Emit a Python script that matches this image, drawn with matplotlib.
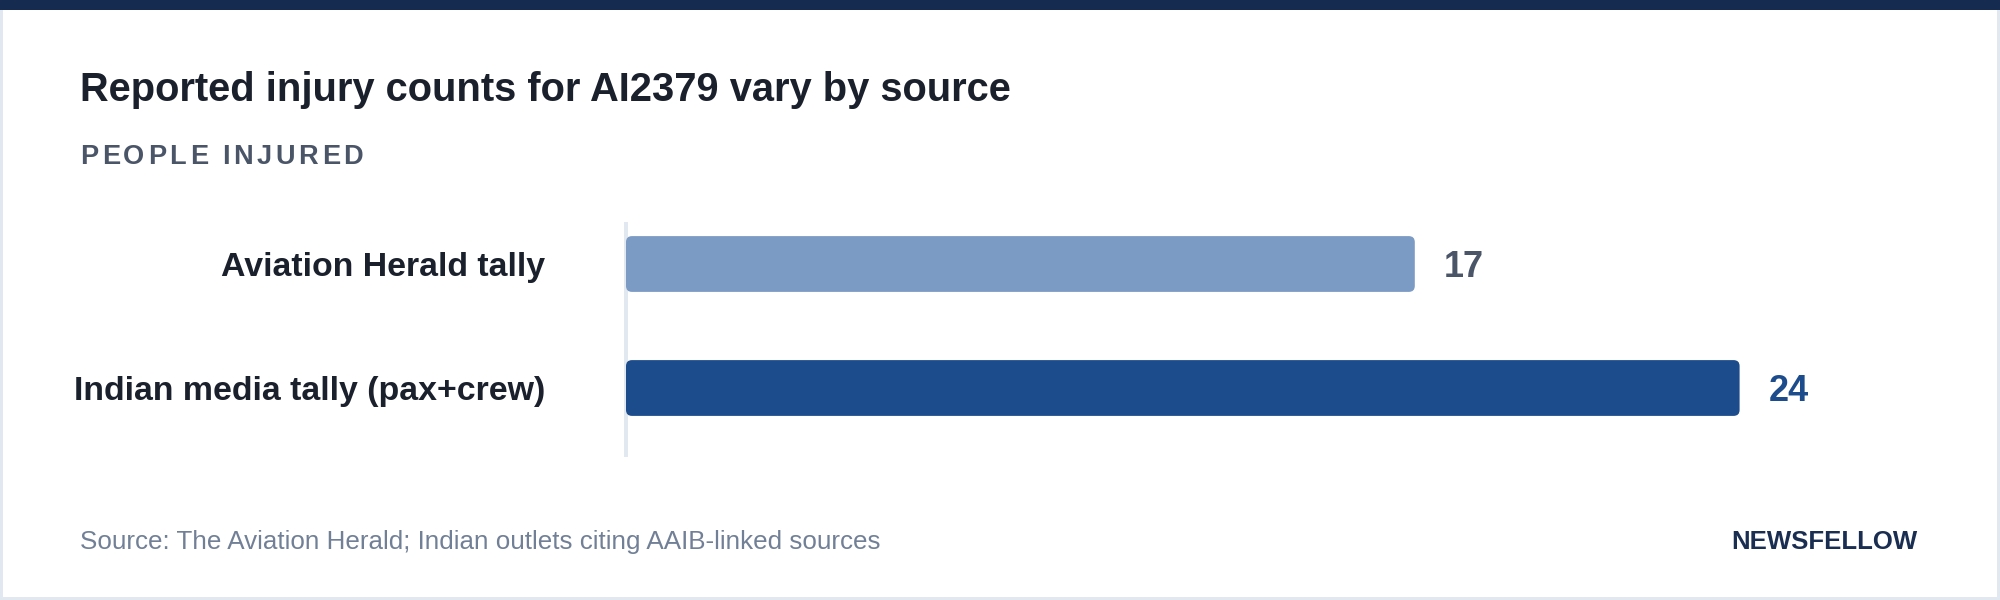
import matplotlib
matplotlib.use('Agg')
import matplotlib.pyplot as plt
from matplotlib.patches import FancyBboxPatch, Rectangle

categories = ["Aviation Herald tally", "Indian media tally (pax+crew)"]
values = [17, 24]
bar_colors = ["#7b9bc4", "#1c4c8c"]
value_colors = ["#4a5568", "#1c4c8c"]
title = "Reported injury counts for AI2379 vary by source"
subtitle = "PEOPLE INJURED"
source = "Source: The Aviation Herald; Indian outlets citing AAIB-linked sources"
brand = "NEWSFELLOW"

W, H, DPI = 2000, 600, 100
FONT = "Liberation Sans"
fig = plt.figure(figsize=(W / DPI, H / DPI), dpi=DPI)
fig.patch.set_facecolor("white")


def fx(px):
    return px / W


def fy(py):
    return 1 - py / H


# card border and top band
fig.patches.append(Rectangle((0, 0), 1, 1, transform=fig.transFigure, fill=False,
                             edgecolor="#e2e8f0", linewidth=6 * 72 / DPI, zorder=0))
fig.patches.append(Rectangle((0, fy(10)), 1, 10 / H, transform=fig.transFigure,
                             facecolor="#152b50", edgecolor="none", zorder=1))

# axes
px_per_unit = 46.4
x0_px, x1_px = 626, 1900
top_px, bot_px = 224, 455
ax = fig.add_axes([fx(x0_px), fy(bot_px), (x1_px - x0_px) / W, (bot_px - top_px) / H])
ax.set_xlim(0, (x1_px - x0_px) / px_per_unit)
row_px = 124
ax.set_ylim(1 + (bot_px - 388) / row_px, -(264 - top_px) / row_px)
ax.set_facecolor("none")
for s in ["top", "right", "bottom"]:
    ax.spines[s].set_visible(False)
ax.spines["left"].set_color("#e2e8f0")
ax.spines["left"].set_linewidth(4 * 72 / DPI)
ax.set_xticks([])
ax.set_yticks([])

ypos = list(range(len(categories)))
bars = ax.barh(ypos, values, height=0.45, color=bar_colors)
r_x = 6 / px_per_unit
asp = (6 / row_px) / r_x
for b, c in zip(bars, bar_colors):
    fp = FancyBboxPatch((b.get_x(), b.get_y()), b.get_width(), b.get_height(),
                        boxstyle=f"round,pad=0,rounding_size={r_x}",
                        mutation_aspect=asp, facecolor=c, edgecolor="none", zorder=3)
    ax.add_patch(fp)
    b.remove()

for i, (cat, v, vc) in enumerate(zip(categories, values, value_colors)):
    ax.annotate(cat, xy=(0, i), xytext=(-81, -12), textcoords="offset pixels",
                ha="right", va="baseline", fontsize=24.4, fontweight="bold",
                color="#1a202c", family=FONT)
    ax.annotate(str(v), xy=(v, i), xytext=(29, -13), textcoords="offset pixels",
                ha="left", va="baseline", fontsize=26, fontweight="bold",
                color=vc, family=FONT)

# title
fig.text(fx(80), fy(101), title, ha="left", va="baseline", fontsize=28.7,
         fontweight="bold", color="#1a202c", family=FONT)

# subtitle with letter spacing
renderer = fig.canvas.get_renderer()
sub_kw = dict(fontsize=19.5, fontweight="bold", color="#4a5568", family=FONT)


def text_w(s):
    t = fig.text(0, 0, s + "|", **sub_kw)
    w = t.get_window_extent(renderer).width
    t.remove()
    t2 = fig.text(0, 0, "|", **sub_kw)
    w2 = t2.get_window_extent(renderer).width
    t2.remove()
    return w - w2


w0 = text_w(subtitle)
target = 283
track = (target - w0) / (len(subtitle) - 1)
for i, ch in enumerate(subtitle):
    xpos = 80 + text_w(subtitle[:i]) + i * track
    fig.text(fx(xpos), fy(164), ch, ha="left", va="baseline", **sub_kw)

# footer
fig.text(fx(80), fy(549), source, ha="left", va="baseline", fontsize=18.7,
         color="#718096", family=FONT)
fig.text(fx(1917), fy(549), brand, ha="right", va="baseline", fontsize=18.5,
         fontweight="bold", color="#1a2e52", family=FONT)

fig.savefig("out.png", dpi=DPI, facecolor="white")
